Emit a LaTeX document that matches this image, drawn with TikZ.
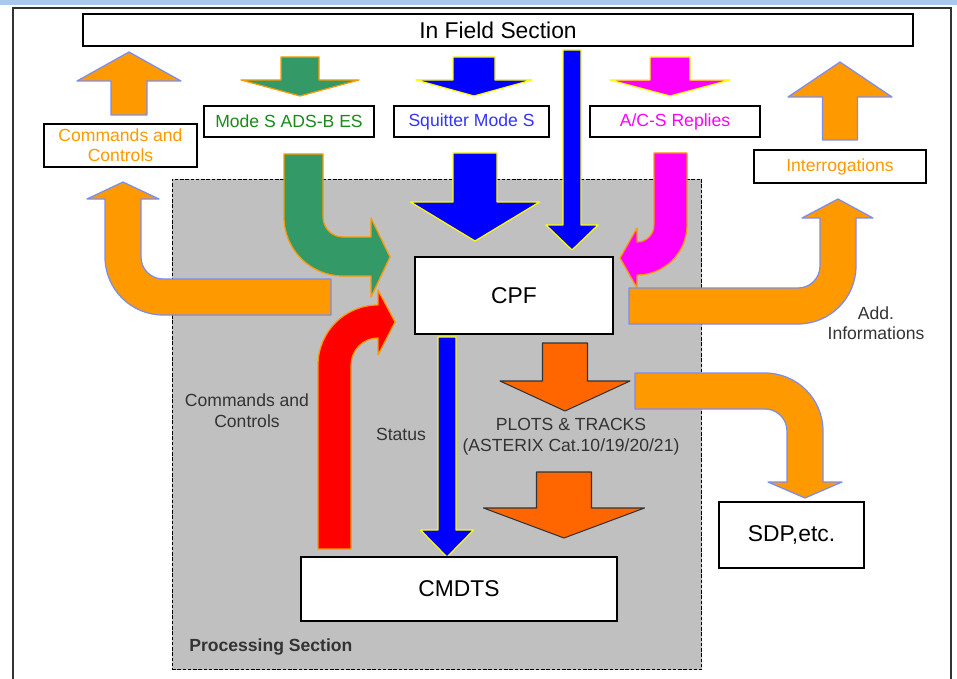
\documentclass[tikz,border=0pt]{standalone}
\usepackage{fontspec}
\setmainfont{Liberation Sans}
\definecolor{procgray}{HTML}{C0C0C0}
\definecolor{orng}{HTML}{FF9900}
\definecolor{lilac}{HTML}{7A8CF0}
\definecolor{sgreen}{HTML}{339966}
\definecolor{dgreen}{HTML}{1A8A1A}
\definecolor{pblue}{HTML}{0000FF}
\definecolor{tblue}{HTML}{3333FF}
\definecolor{yel}{HTML}{FFFF00}
\definecolor{mag}{HTML}{FF00FF}
\definecolor{rred}{HTML}{FF0000}
\definecolor{rust}{HTML}{FF6600}
\definecolor{ink}{HTML}{333333}
\definecolor{sky}{HTML}{A9C8EC}
\tikzset{
  box/.style={draw=black, line width=1pt, fill=white, inner sep=0pt, align=center},
  big/.style={font=\fontsize{13}{15}\selectfont},
  small/.style={font=\fontsize{10}{11.5}\selectfont, align=center},
  lab/.style={small, text=ink},
  procarea/.style={fill=procgray, draw=black, dash pattern=on 2pt off 1pt, line width=0.6pt, inner sep=0pt},
  orangearr/.style={fill=orng, draw=lilac, line width=0.7pt, line join=round},
  greenarr/.style={fill=sgreen, draw=orng, line width=0.7pt, line join=round},
  bluearr/.style={fill=pblue, draw=yel, line width=0.7pt, line join=round},
  magarr/.style={fill=mag, draw=yel, line width=0.7pt, line join=round},
  redarr/.style={fill=rred, draw=orng, line width=0.7pt, line join=round},
  rustarr/.style={fill=rust, draw=ink, line width=0.6pt, line join=round},
}
% straight block arrow: style, x, half shaft, shaft end, head base, half head, tip
\newcommand{\fatarrow}[7]{%
  \filldraw[#1] (#2-#3,#4) -- (#2-#3,#5) -- (#2-#6,#5) -- (#2,#7)
    -- (#2+#6,#5) -- (#2+#3,#5) -- (#2+#3,#4) -- cycle;}

\begin{document}
\begin{tikzpicture}[x=0.02cm, y=-0.02cm]
  \useasboundingbox (0,0) rectangle (957,679);
  \fill[sky] (0,0) rectangle (957,5);
  \draw[ink, line width=0.8pt] (13,679) -- (13,8) -- (951,8) -- (951,679);

  \node[procarea, minimum width=10.6cm, minimum height=9.82cm] (proc) at (437,424.5) {};
  \node[anchor=west, inner sep=0pt, font=\fontsize{10}{11.5}\selectfont\bfseries, text=ink] (proclab) at (189,647) {Processing Section};

  % field side
  \fatarrow{orangearr}{129}{18}{115}{81}{52}{52}
  \fatarrow{greenarr}{300}{19}{57}{80}{59}{96}
  \fatarrow{bluearr}{474}{21}{57}{80}{58}{96}
  \fatarrow{magarr}{670}{20}{57}{80}{60}{96}
  \fatarrow{orangearr}{840}{17.5}{140}{97}{52}{62}
  \fatarrow{bluearr}{572}{9}{50}{225}{26}{250}

  % into and out of the CPF
  \fatarrow{bluearr}{475}{22}{153}{202}{64.5}{241}
  \filldraw[greenarr] (284,154) -- (284,217) arc[start angle=180, end angle=90, radius=59]
    -- (371,276) -- (371,297) -- (390,257) -- (371,218) -- (371,237) -- (343,237)
    arc[start angle=90, end angle=180, radius=20] -- (323,154) -- cycle;
  \filldraw[magarr, draw=orng] (654,153) -- (687,153) -- (687,225) arc[start angle=0, end angle=90, radius=50]
    -- (637,288) -- (620,258) -- (637,228) -- (637,242)
    arc[start angle=90, end angle=0, radius=17] -- cycle;
  \filldraw[orangearr] (331,279) -- (163,279) arc[start angle=90, end angle=180, radius=22]
    -- (141,199) -- (159,199) -- (123,182) -- (87,199) -- (105,199) -- (105,257)
    arc[start angle=180, end angle=90, radius=58] -- (331,315) -- cycle;
  \filldraw[orangearr] (629,288) -- (798,288) arc[start angle=90, end angle=0, radius=22]
    -- (820,218) -- (802,218) -- (838,199) -- (873,218) -- (856,218) -- (856,266)
    arc[start angle=0, end angle=90, radius=58] -- (629,324) -- cycle;
  \filldraw[redarr] (318,549) -- (318,365) arc[start angle=180, end angle=270, radius=60]
    -- (378,290) -- (395,322) -- (378,355) -- (378,338)
    arc[start angle=270, end angle=180, radius=27] -- (351,549) -- cycle;
  \fatarrow{bluearr}{447}{9}{337}{530}{26.5}{557}
  \fatarrow{rustarr}{565}{22.5}{343}{381}{65}{411}
  \fatarrow{rustarr}{564}{27.5}{472}{508}{80.5}{538}
  \filldraw[orangearr] (635,373) -- (765,373) arc[start angle=270, end angle=360, radius=58]
    -- (823,482) -- (842,482) -- (805,498) -- (768,482) -- (787,482) -- (787,431)
    arc[start angle=0, end angle=-90, radius=22] -- (635,409) -- cycle;

  % boxes
  \node[box, big, minimum width=16.6cm, minimum height=0.64cm] (field) at (498,30) {In Field Section};
  \node[box, small, text=orng, minimum width=3.06cm, minimum height=0.86cm] (cmdbox) at (120.5,145.5) {Commands and\\Controls};
  \node[box, small, text=dgreen, minimum width=3.4cm, minimum height=0.62cm] (modes) at (289,121.5) {Mode S ADS-B ES};
  \node[box, small, text=tblue, minimum width=3.1cm, minimum height=0.62cm] (squitter) at (471.5,121.5) {Squitter Mode S};
  \node[box, small, text=mag, minimum width=3.4cm, minimum height=0.62cm] (replies) at (675,121.5) {A/C-S Replies};
  \node[box, small, text=orng, minimum width=3.44cm, minimum height=0.66cm] (interr) at (840,166.5) {Interrogations};
  \node[box, big, minimum width=3.96cm, minimum height=1.54cm] (cpf) at (514,295.5) {CPF};
  \node[box, big, minimum width=6.32cm, minimum height=1.28cm] (cmdts) at (459,589) {CMDTS};
  \node[box, big, minimum width=2.9cm, minimum height=1.32cm] (sdp) at (791.5,535) {SDP,etc.};

  % labels
  \node[lab, font=\fontsize{10}{12}\selectfont] (cmdlab) at (247,411) {Commands and\\Controls};
  \node[lab] (statlab) at (401,434) {Status};
  \node[lab, font=\fontsize{10}{12}\selectfont] (plotlab) at (571,437) {PLOTS \& TRACKS\\(ASTERIX Cat.10/19/20/21)};
  \node[lab] (addlab) at (876,323) {Add.\\Informations};
\end{tikzpicture}
\end{document}
